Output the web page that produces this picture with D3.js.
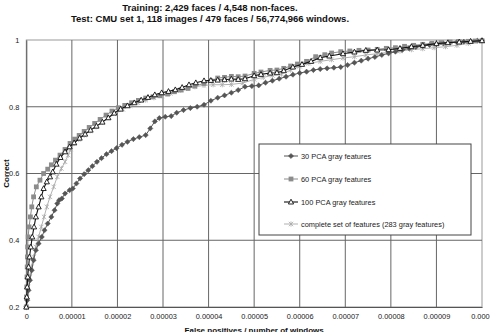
<!DOCTYPE html>
<html><head><meta charset="utf-8">
<script src="https://cdn.jsdelivr.net/npm/d3@7"></script>
<style>
html,body{margin:0;padding:0;background:#fff;}
svg{display:block;font-family:"Liberation Sans",Arial,sans-serif;}
</style></head>
<body><svg id="c" width="490" height="332"></svg>
<script>
// x values in units of 1e-5 (false positives / number of windows)
const xTickLabels = ["0","0.00001","0.00002","0.00003","0.00004","0.00005","0.00006","0.00007","0.00008","0.00009","0.0001"];
const yTickLabels = ["0.2","0.4","0.6","0.8","1"];
const yTicks = [0.2,0.4,0.6,0.8,1];
const seriesNames = ["30 PCA gray features","60 PCA gray features","100 PCA gray features","complete set of features (283 gray features)"];

const pca30 = [[0,0.2],[0.02,0.22],[0.05,0.25],[0.08,0.28],[0.12,0.31],[0.16,0.34],[0.21,0.37],[0.27,0.39],[0.34,0.41],[0.40,0.43],[0.47,0.45],[0.55,0.47],[0.62,0.49],[0.68,0.51],[0.72,0.52],[0.78,0.525],[0.85,0.54],[0.95,0.55],[1.02,0.555],[1.10,0.57],[1.18,0.585],[1.27,0.598],[1.36,0.61],[1.45,0.622],[1.55,0.635],[1.65,0.646],[1.76,0.658],[1.87,0.667],[1.98,0.676],[2.10,0.686],[2.22,0.695],[2.35,0.703],[2.48,0.709],[2.62,0.715],[2.72,0.735],[2.82,0.756],[2.92,0.766],[3.05,0.770],[3.18,0.772],[3.30,0.782],[3.45,0.79],[3.60,0.796],[3.75,0.80],[3.90,0.806],[4.05,0.818],[4.20,0.827],[4.35,0.834],[4.50,0.842],[4.65,0.850],[4.80,0.860],[4.95,0.862],[5.10,0.864],[5.25,0.872],[5.40,0.878],[5.55,0.884],[5.70,0.890],[5.85,0.896],[6.00,0.901],[6.15,0.905],[6.30,0.910],[6.45,0.913],[6.60,0.915],[6.75,0.917],[6.90,0.919],[7.05,0.925],[7.20,0.932],[7.35,0.938],[7.50,0.944],[7.65,0.949],[7.80,0.955],[7.95,0.96],[8.10,0.965],[8.25,0.970],[8.40,0.975],[8.55,0.979],[8.70,0.982],[8.85,0.985],[9.00,0.988],[9.15,0.990],[9.30,0.992],[9.45,0.994],[9.60,0.995],[9.75,0.996],[9.90,0.998],[10,0.999]];

const pca60 = [[0,0.2],[0.005,0.23],[0.01,0.26],[0.015,0.29],[0.02,0.32],[0.025,0.35],[0.03,0.38],[0.04,0.41],[0.06,0.44],[0.09,0.47],[0.12,0.50],[0.16,0.53],[0.22,0.56],[0.30,0.58],[0.38,0.60],[0.47,0.613],[0.55,0.626],[0.64,0.64],[0.74,0.655],[0.85,0.672],[0.96,0.690],[1.06,0.703],[1.16,0.714],[1.27,0.726],[1.38,0.738],[1.50,0.750],[1.62,0.762],[1.75,0.775],[1.88,0.787],[2.02,0.797],[2.16,0.804],[2.31,0.812],[2.46,0.819],[2.62,0.826],[2.78,0.830],[2.93,0.833],[3.10,0.838],[3.25,0.845],[3.40,0.850],[3.55,0.855],[3.70,0.862],[3.90,0.870],[4.05,0.878],[4.20,0.886],[4.35,0.888],[4.50,0.891],[4.65,0.890],[4.80,0.892],[5.00,0.900],[5.15,0.904],[5.35,0.909],[5.50,0.910],[5.65,0.915],[5.80,0.922],[5.95,0.928],[6.15,0.936],[6.35,0.950],[6.55,0.956],[6.70,0.961],[6.90,0.965],[7.10,0.967],[7.30,0.969],[7.50,0.970],[7.70,0.972],[7.90,0.975],[8.10,0.977],[8.30,0.981],[8.50,0.984],[8.70,0.987],[8.90,0.990],[9.10,0.992],[9.30,0.994],[9.50,0.995],[9.70,0.996],[9.85,0.997],[10,0.998]];

const pca100 = [[0,0.2],[0.01,0.23],[0.02,0.26],[0.03,0.29],[0.05,0.32],[0.07,0.35],[0.10,0.38],[0.13,0.41],[0.17,0.44],[0.21,0.47],[0.27,0.50],[0.33,0.53],[0.38,0.555],[0.45,0.575],[0.52,0.59],[0.58,0.605],[0.66,0.628],[0.75,0.648],[0.85,0.665],[0.95,0.680],[1.05,0.692],[1.17,0.706],[1.29,0.718],[1.41,0.730],[1.54,0.742],[1.67,0.754],[1.80,0.767],[1.93,0.781],[2.07,0.793],[2.22,0.803],[2.37,0.812],[2.52,0.820],[2.67,0.828],[2.82,0.836],[2.97,0.842],[3.12,0.846],[3.27,0.851],[3.42,0.858],[3.57,0.866],[3.72,0.872],[3.90,0.878],[4.05,0.879],[4.20,0.880],[4.35,0.881],[4.50,0.883],[4.65,0.882],[4.80,0.884],[5.00,0.893],[5.15,0.897],[5.35,0.901],[5.50,0.902],[5.65,0.908],[5.85,0.919],[6.05,0.927],[6.25,0.936],[6.45,0.947],[6.65,0.952],[6.95,0.959],[7.20,0.964],[7.45,0.969],[7.70,0.970],[7.95,0.971],[8.20,0.975],[8.45,0.980],[8.70,0.984],[9.00,0.989],[9.25,0.992],[9.50,0.994],[9.75,0.996],[10,0.998]];

const complete = [[0,0.2],[0.02,0.23],[0.04,0.26],[0.07,0.29],[0.11,0.32],[0.16,0.35],[0.21,0.38],[0.27,0.41],[0.33,0.44],[0.39,0.47],[0.45,0.50],[0.52,0.53],[0.60,0.56],[0.68,0.59],[0.77,0.615],[0.85,0.635],[0.92,0.655],[0.97,0.673],[1.05,0.690],[1.15,0.702],[1.27,0.715],[1.40,0.728],[1.53,0.740],[1.67,0.754],[1.81,0.768],[1.96,0.780],[2.12,0.792],[2.28,0.803],[2.45,0.812],[2.62,0.820],[2.80,0.827],[2.98,0.833],[3.16,0.840],[3.34,0.849],[3.52,0.855],[3.70,0.860],[3.90,0.864],[4.10,0.866],[4.30,0.866],[4.50,0.867],[4.75,0.871],[5.00,0.882],[5.20,0.888],[5.40,0.894],[5.60,0.898],[5.80,0.910],[6.00,0.921],[6.20,0.930],[6.45,0.936],[6.70,0.941],[6.95,0.946],[7.20,0.950],[7.45,0.955],[7.70,0.959],[7.95,0.963],[8.20,0.967],[8.45,0.971],[8.70,0.974],[8.95,0.977],[9.20,0.980],[9.45,0.984],[9.70,0.990],[10,0.996]];

const svg = d3.select("#c");
const L = 26.3, R = 482, T = 40, B = 307;
const x = d3.scaleLinear().domain([0,10]).range([L,R]);
const y = d3.scaleLinear().domain([0.2,1]).range([B,T]);

// titles
svg.append("text").attr("x",210).attr("y",10.5).attr("text-anchor","middle")
  .attr("font-size",9.5).attr("font-weight","bold").attr("fill","#111")
  .text("Training: 2,429 faces / 4,548 non-faces.");
svg.append("text").attr("x",210).attr("y",22).attr("text-anchor","middle")
  .attr("font-size",9.5).attr("font-weight","bold").attr("fill","#111")
  .text("Test: CMU set 1, 118 images / 479 faces / 56,774,966 windows.");

// plot frame
svg.append("rect").attr("x",L).attr("y",T).attr("width",R-L).attr("height",B-T)
  .attr("fill","#fff").attr("stroke","#999").attr("stroke-width",1);

// grid
const g = svg.append("g");
g.selectAll(".vg").data(d3.range(1,10)).join("line")
  .attr("x1",d=>x(d)).attr("x2",d=>x(d)).attr("y1",T).attr("y2",B)
  .attr("stroke","#666").attr("stroke-width",1);
g.selectAll(".hg").data([0.4,0.6,0.8]).join("line")
  .attr("x1",L).attr("x2",R).attr("y1",d=>y(d)).attr("y2",d=>y(d))
  .attr("stroke","#666").attr("stroke-width",1);

// axes
const xAxis = d3.axisBottom(x).tickValues(d3.range(0,11)).tickSize(0).tickPadding(7)
  .tickFormat((d,i)=>xTickLabels[i]);
const gx = svg.append("g").attr("transform",`translate(0,${B})`).call(xAxis);
gx.select(".domain").attr("stroke","#555");
gx.selectAll("text").attr("font-size",7.4).attr("fill","#222").attr("font-family","Liberation Sans, Arial, sans-serif");

const yAxis = d3.axisLeft(y).tickValues(yTicks).tickSize(0).tickPadding(7)
  .tickFormat((d,i)=>yTickLabels[i]);
const gy = svg.append("g").attr("transform",`translate(${L},0)`).call(yAxis);
gy.select(".domain").attr("stroke","#555");
gy.selectAll("text").attr("font-size",7.4).attr("fill","#222").attr("font-family","Liberation Sans, Arial, sans-serif");

svg.append("text").attr("x",(L+R)/2).attr("y",333).attr("text-anchor","middle")
  .attr("font-size",8).attr("font-weight","bold").attr("fill","#111")
  .text("False positives / number of windows");
svg.append("text").attr("transform",`translate(8.5,${(T+B)/2}) rotate(-90)`).attr("text-anchor","middle")
  .attr("font-size",8).attr("font-weight","bold").attr("fill","#111")
  .text("Correct");

const line = d3.line().x(d=>x(d[0])).y(d=>y(d[1]));
const styles = [
  {data:pca30, color:"#555", width:1, marker:"diamond"},
  {data:pca60, color:"#8c8c8c", width:1, marker:"square"},
  {data:pca100, color:"#111", width:1.1, marker:"triangle"},
  {data:complete, color:"#a8a8a8", width:0.9, marker:"star"}
];

function drawMarker(sel, type, color){
  if(type==="diamond"){
    sel.append("path").attr("d","M0,-2.6L2.6,0L0,2.6L-2.6,0Z").attr("fill",color).attr("stroke",color).attr("stroke-width",0.5);
  } else if(type==="square"){
    sel.append("rect").attr("x",-2.4).attr("y",-2.4).attr("width",4.8).attr("height",4.8).attr("fill",color);
  } else if(type==="triangle"){
    sel.append("path").attr("d","M0,-2.8L2.6,2L-2.6,2Z").attr("fill","#fff").attr("stroke",color).attr("stroke-width",0.9);
  } else {
    sel.append("path").attr("d","M-2.2,-2.2L2.2,2.2M-2.2,2.2L2.2,-2.2M0,-2.6L0,2.6").attr("fill","none").attr("stroke",color).attr("stroke-width",0.8);
  }
}

// draw series in order: complete first at the back
[3,0,1,2].forEach(i=>{
  const s = styles[i];
  svg.append("path").datum(s.data).attr("d",line).attr("fill","none")
    .attr("stroke",s.color).attr("stroke-width",s.width);
  const mg = svg.append("g");
  mg.selectAll("g").data(s.data).join("g")
    .attr("transform",d=>`translate(${x(d[0])},${y(d[1])})`)
    .each(function(){ drawMarker(d3.select(this), s.marker, s.color); });
});

// legend
const lg = svg.append("g");
lg.append("rect").attr("x",259).attr("y",144).attr("width",212).attr("height",91)
  .attr("fill","#fff").attr("stroke","#444").attr("stroke-width",1);
const legY = [156,179,202,224];
styles.forEach((s,i)=>{
  const yy = legY[i];
  lg.append("line").attr("x1",284).attr("x2",298).attr("y1",yy).attr("y2",yy)
    .attr("stroke",s.color).attr("stroke-width",s.width);
  drawMarker(lg.append("g").attr("transform",`translate(291,${yy})`), s.marker, s.color);
  lg.append("text").attr("x",301).attr("y",yy+2.6).attr("font-size",7.4).attr("fill","#222")
    .text(seriesNames[i]);
});
</script></body></html>
